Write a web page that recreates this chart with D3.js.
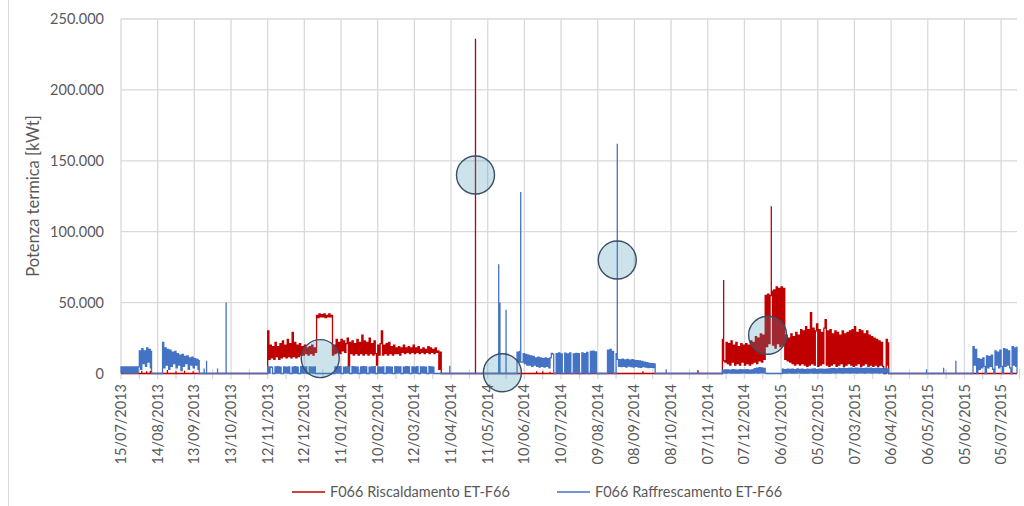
<!DOCTYPE html>
<html>
<head>
<meta charset="utf-8">
<script src="https://cdn.jsdelivr.net/npm/d3@7"></script>
<style>
body { margin: 0; background: #fff; }
svg text { font-family: Lato, "Open Sans", sans-serif; fill: #595959; }
</style>
</head>
<body>
<script>
var width = 1024;
var height = 506;

// x axis labels, one every 30 days (Excel date axis)
var tickLabels = ["15/07/2013", "14/08/2013", "13/09/2013", "13/10/2013", "12/11/2013",
  "12/12/2013", "11/01/2014", "10/02/2014", "12/03/2014", "11/04/2014", "11/05/2014",
  "10/06/2014", "10/07/2014", "09/08/2014", "08/09/2014", "08/10/2014", "07/11/2014",
  "07/12/2014", "06/01/2015", "05/02/2015", "07/03/2015", "06/04/2015", "06/05/2015",
  "05/06/2015", "05/07/2015"];

var seriesNames = ["F066 Riscaldamento ET-F66", "F066 Raffrescamento ET-F66"];

// all values in thousands of kWt, one value per day from the given start date

// Riscaldamento, winter 2013/14 (from 12/11/2013)
var heatWinter1 = [30, 10, 20, 11, 19, 10, 22, 12, 19, 10, 21, 11, 23, 12, 20, 11, 24, 12, 21, 11,
  29, 12, 22, 11, 20, 12, 21, 13, 19, 13, 20, 14, 18, 13, 19, 14, 20, 13, 18, 15,
  41, 39.5, 42, 40, 41.5, 40, 42, 39.5, 41, 40, 42, 40, 41,
  13, 20, 14, 24, 15, 22, 14, 24, 16, 23, 15, 21, 25, 5, 22, 14, 23, 13, 21, 14, 24, 13, 22, 14,
  27, 13, 23, 14, 22, 13, 25, 14, 21, 13, 23, 14, 6, 20, 13, 21, 30, 13, 20, 14, 21, 13, 22, 14,
  19, 13, 20, 14, 18, 14, 19, 13, 18, 15, 20, 14, 18, 15, 19, 14, 18, 15, 20, 14, 18, 15, 19, 14,
  17, 15, 18, 14, 17, 15, 19, 14, 18, 15, 17, 14, 18, 15, 16, 3, 15, 0];

// Riscaldamento, winter 2014/15 (from 19/11/2014)
var heatWinter2 = [24, 9, 8, 22, 7, 21, 6, 23, 8, 20, 6, 22, 7, 19, 6, 21, 8, 20, 6, 21,
  7, 20, 6, 23, 7, 22, 8, 26, 7, 25, 9, 28, 8, 27, 10, 55, 19, 56, 21, 55,
  58, 20, 59, 18, 61, 21, 60, 19, 61, 20, 60, 10, 27, 9, 25, 8, 28, 7, 26, 6,
  29, 7, 27, 6, 31, 7, 30, 6, 33, 5, 31, 6, 43, 7, 32, 6, 30, 35, 5, 31,
  6, 29, 7, 32, 38, 6, 30, 5, 31, 6, 28, 7, 30, 5, 29, 6, 27, 7, 30, 5,
  28, 6, 29, 7, 30, 6, 31, 5, 33, 6, 29, 7, 31, 5, 30, 6, 28, 7, 30, 5,
  27, 6, 26, 5, 25, 6, 24, 5, 23, 6, 22, 5, 0, 0, 24, 6, 22];

// Riscaldamento, single spikes and small readings [date, value]
var heatSpikes = [["2013-08-01", 2], ["2013-08-05", 1.5], ["2013-08-08", 2], ["2013-08-22", 2.5],
  ["2013-08-29", 1.5], ["2013-09-05", 2], ["2013-09-12", 1.5], ["2014-05-01", 236],
  ["2014-06-20", 1.6], ["2014-06-25", 1.5], ["2014-07-01", 1.2], ["2014-09-15", 1.5],
  ["2014-10-30", 2.5], ["2014-11-20", 66], ["2014-12-29", 118]];

// Raffrescamento, summer 2013 (from 15/07/2013 and from 18/08/2013)
var coolSummer13a = [4.6, 0.2, 4.7, 0.3, 4.6, 0.2, 4.7, 0.2, 4.6, 0.3, 4.7, 0.2, 4.6, 0.2, 4.7,
  16, 3, 17.5, 7, 16, 5, 18, 8, 17, 4, 16];
var coolSummer13b = [22, 4, 18, 6, 17, 3, 16.5, 5, 15, 7, 15.5, 4, 14, 6, 13, 2, 13.5, 5, 12, 7,
  12.5, 3, 11, 6, 11.5, 4, 10.5, 6, 10, 3, 9.5];

// Raffrescamento, winter 2013/14 working days (from 12/11/2013)
var coolWinter1 = [4.5, 0.3, 4.6, 4.4, 0, 0,
  4.6, 0.3, 4.8, 0.2, 4.5, 0, 0,  4.7, 0.4, 4.5, 0.3, 4.6, 0, 0,
  4.5, 0.2, 4.8, 0.3, 4.4, 0, 0,  4.8, 0.3, 4.6, 0.2, 4.7, 0, 0,
  4.6, 0.4, 4.5, 0.3, 4.6, 0, 0,  0, 0, 0, 0, 0, 0, 0,  0, 0, 0, 0, 0, 0, 0,
  4.7, 0.3, 4.6, 0.2, 4.8, 0, 0,  4.5, 0.3, 4.7, 0.4, 4.6, 0, 0,
  4.8, 0.2, 4.6, 0.3, 4.5, 0, 0,  4.6, 0.3, 4.8, 0.2, 4.7, 0, 0,
  4.5, 0.4, 4.6, 0.3, 4.8, 0, 0,  4.7, 0.2, 4.5, 0.3, 4.6, 0, 0,
  4.6, 0.3, 4.7, 0.2, 4.5, 0, 0,  4.8, 0.3, 4.6, 0.4, 4.7, 0, 0,
  4.5, 0.2, 4.8, 0.3, 4.6, 0, 0,  4.7, 0.3, 4.5, 0.2, 4.8, 0, 0,
  4.6, 0.4, 4.7, 0.3, 4.5, 0, 0,  4.8, 0.3, 4.6, 0.2, 4.7];

// Raffrescamento, summer 2014 (from 04/06/2014)
var coolSummer14 = [15, 8, 15.5, 8, 8, 14, 7, 13.5, 6, 13, 6, 12.5, 5, 12, 6, 11, 5, 11.5, 4.5, 11,
  5, 10.5, 4.5, 11, 5, 10.5, 4, 11,
  14.2, 13.6, 0, 0,
  14, 0.5, 14.5, 0.3, 13.8, 0, 0,  14.3, 0.4, 13.9, 0.5, 14.6, 0, 0,
  13.8, 0.3, 14.2, 0.4, 14, 0, 0,  14.5, 0.5, 14, 0.3, 14.8, 0, 0,
  15.5, 0.4, 15.8, 0.5, 15.2, 0, 0,  0, 0, 0, 0, 0, 0, 0,
  16.5, 0.5, 17, 0.4, 15.5, 0, 0,
  14,
  10, 5, 9.8, 4.8, 10.2, 5, 9.6, 4.6, 10, 5.2, 9.5, 4.8, 9.8, 4.5, 9.2, 5, 9, 4.6, 8.8, 4.4,
  8.5, 4.8, 8, 4.5, 7.6, 4.2, 7.2, 4.4, 7, 4.2, 6.8, 4];

// Raffrescamento, winter 2014/15 (from 19/11/2014)
var coolWinter2 = [2.4, 0.3, 2.6, 0.2, 2.5, 0.4, 2.3, 0.3, 2.7, 0.2, 2.5, 0.3, 2.4, 0.2, 2.8, 0.3,
  2.6, 0.4, 2.5, 0.2, 2.7, 0.3, 2.4, 0.3, 2.6, 0.2, 3.5, 0.4, 3.8, 0.3, 4.2, 0.5, 4, 0.4, 3.6, 0.3,
  0, 0, 0, 0, 0, 0, 0, 0, 0, 0, 0, 0, 0,
  3, 0.3, 2.8, 0.2, 3.1, 0.4, 2.9, 0.3, 3, 0.2, 2.7, 0.3, 3.2, 0.4, 2.9, 0.2, 3, 0.3, 2.8, 0.3,
  3.1, 0.2, 2.9, 0.4, 3, 0.3, 3.2, 0.2, 2.8, 0.3, 3, 0.4, 3.1, 0.2, 2.9, 0.3, 3, 0.3, 3.3, 0.2,
  3.4, 0.4, 3.5, 0.3, 3.3, 0.5, 3.6, 0.4, 3.5, 0.3, 3.7, 0.5, 3.4, 0.4, 3.6, 0.3, 3.8, 0.5, 3.5, 0.4,
  3.7, 0.3, 3.6, 0.5, 3.8, 0.4, 3.5, 0.3, 3.7, 0.5, 3.6, 0.4, 3.8, 0.3, 3.5, 0.5, 3.6, 0.4, 3.7, 0.3,
  3.5, 0.4, 3.6, 0.3, 3.4, 0.5, 3.2, 0.3];

// Raffrescamento, summer 2015 (from 12/06/2015)
var coolSummer15 = [19, 6, 17, 0, 10.5, 3, 10, 4, 11, 5, 0, 12.5, 4, 12, 5, 13, 3, 0,
  16, 6, 15, 4, 16.5, 5, 0, 17.5, 5, 17, 6, 16, 4, 0, 19, 6, 18, 5, 19];

// Raffrescamento, single spikes [date, value]
var coolSpikes = [["2013-09-21", 3.5], ["2013-09-23", 9], ["2013-10-02", 3.5], ["2013-10-09", 50],
  ["2014-04-10", 5.5], ["2014-05-20", 77], ["2014-05-21", 50], ["2014-05-26", 45],
  ["2014-06-07", 128], ["2014-08-25", 162],
  ["2014-10-04", 3], ["2015-05-05", 3], ["2015-05-19", 4], ["2015-05-29", 9]];

// highlighted points (circles)
var noteDates = ["2014-05-01", "2013-12-25", "2014-05-23", "2014-08-25", "2014-12-26"];
var noteValues = [140, 10.5, 0.5, 80, 27];


var parseDay = d3.utcParse("%Y-%m-%d");
var parseLabel = d3.utcParse("%d/%m/%Y");
var itFormat = d3.formatLocale({decimal: ",", thousands: ".", grouping: [3], currency: ["€", ""]}).format(",.0f");

var svg = d3.select("body").append("svg")
  .attr("width", width)
  .attr("height", height);

var x = d3.scaleUtc()
  .domain([parseDay("2013-07-15"), parseDay("2015-07-18")])
  .range([121, 1017]);

var y = d3.scaleLinear()
  .domain([0, 250])
  .range([373.5, 19]);

var tickDates = tickLabels.map(parseLabel);

// chart border on the left
svg.append("line")
  .attr("x1", 8.5).attr("x2", 8.5)
  .attr("y1", 0).attr("y2", height)
  .attr("stroke", "#d9d9d9");

//Gridlines//
svg.append("g").selectAll("line")
  .data(y.ticks(5))
  .enter().append("line")
  .attr("x1", x.range()[0]).attr("x2", x.range()[1])
  .attr("y1", function(d) { return y(d); })
  .attr("y2", function(d) { return y(d); })
  .attr("stroke", "#d9d9d9")
  .attr("stroke-width", 1.3);

svg.append("g").selectAll("line")
  .data(tickDates)
  .enter().append("line")
  .attr("x1", function(d) { return x(d); })
  .attr("x2", function(d) { return x(d); })
  .attr("y1", y(250)).attr("y2", y(0) + 5.5)
  .attr("stroke", "#d9d9d9")
  .attr("stroke-width", 1.3);

// minor ticks halfway between labels
var minorDates = tickDates.map(function(d) { return d3.utcDay.offset(d, 15); });
svg.append("g").selectAll("line")
  .data(minorDates)
  .enter().append("line")
  .attr("x1", function(d) { return x(d); })
  .attr("x2", function(d) { return x(d); })
  .attr("y1", y(0) - 4.5).attr("y2", y(0) + 5.5)
  .attr("stroke", "#d9d9d9")
  .attr("stroke-width", 1.3);


//Build the series: runs of daily values, zero everywhere else.
//A spike goes up from whatever level the series has on that day.
function buildSeries(runs, spikes) {
  var pts = [{t: x.domain()[0], v: 0}];
  runs.forEach(function(r) {
    var t0 = parseDay(r[0]);
    var vals = r[1];
    pts.push({t: t0, v: 0});
    for (var i = 0; i < vals.length; i++) {
      pts.push({t: d3.utcDay.offset(t0, i), v: vals[i]});
    }
    pts.push({t: d3.utcDay.offset(t0, vals.length - 1), v: 0});
  });
  spikes.forEach(function(s) {
    var t = parseDay(s[0]);
    pts.push({t: t, base: true}, {t: t, v: s[1], peak: true}, {t: t, base: true});
  });
  pts.push({t: x.domain()[1], v: 0});
  pts.sort(function(a, b) { return a.t - b.t; });
  var level = 0;
  pts.forEach(function(p) {
    if (p.base) { p.v = level; }
    else if (!p.peak) { level = p.v; }
  });
  return pts;
}

var heatData = buildSeries([["2013-11-12", heatWinter1], ["2014-11-19", heatWinter2]], heatSpikes);
var coolData = buildSeries([["2013-07-15", coolSummer13a], ["2013-08-18", coolSummer13b],
  ["2013-11-12", coolWinter1], ["2014-06-04", coolSummer14], ["2014-11-19", coolWinter2],
  ["2015-06-12", coolSummer15]], coolSpikes);

var line = d3.line()
  .curve(d3.curveStepAfter)
  .x(function(d) { return x(d.t); })
  .y(function(d) { return y(d.v); });

svg.append("path")
  .datum(heatData)
  .attr("d", line)
  .attr("fill", "none")
  .attr("stroke", "#c00000")
  .attr("stroke-width", 1.3);

svg.append("path")
  .datum(coolData)
  .attr("d", line)
  .attr("fill", "none")
  .attr("stroke", "#4472c4")
  .attr("stroke-width", 1.3);

// circles over the odd readings
svg.append("g").selectAll("circle")
  .data(noteDates)
  .enter().append("circle")
  .attr("cx", function(d) { return x(parseDay(d)); })
  .attr("cy", function(d, i) { return y(noteValues[i]); })
  .attr("r", 19)
  .attr("fill", "rgb(70,150,180)")
  .attr("fill-opacity", 0.27)
  .attr("stroke", "#3b4e66")
  .attr("stroke-width", 1.4);


//Axis labels//
svg.append("g").selectAll("text")
  .data(y.ticks(5))
  .enter().append("text")
  .attr("x", 104)
  .attr("y", function(d) { return y(d); })
  .attr("dy", "0.35em")
  .attr("text-anchor", "end")
  .style("font-size", "14.5px")
  .text(function(d) { return itFormat(d * 1000); });

svg.append("g").selectAll("text")
  .data(tickDates)
  .enter().append("text")
  .attr("transform", function(d) { return "translate(" + x(d) + ",384) rotate(-90)"; })
  .attr("dy", "0.35em")
  .attr("text-anchor", "end")
  .style("font-size", "14.5px")
  .text(function(d, i) { return tickLabels[i]; });

svg.append("text")
  .attr("transform", "translate(33,196) rotate(-90)")
  .attr("dy", "0.35em")
  .attr("text-anchor", "middle")
  .style("font-size", "16.5px")
  .text("Potenza termica [kWt]");


//Legend//
var legend = svg.append("g").selectAll("g")
  .data(seriesNames)
  .enter().append("g")
  .attr("transform", function(d, i) { return "translate(" + (292 + i * 265) + ",492)"; });

legend.append("line")
  .attr("x1", 0).attr("x2", 33)
  .attr("stroke", function(d, i) { return i == 0 ? "#c00000" : "#4472c4"; })
  .attr("stroke-width", 1.3);

legend.append("text")
  .attr("x", 38)
  .attr("dy", "0.35em")
  .style("font-size", "14.5px")
  .text(function(d) { return d; });
</script>
</body>
</html>
